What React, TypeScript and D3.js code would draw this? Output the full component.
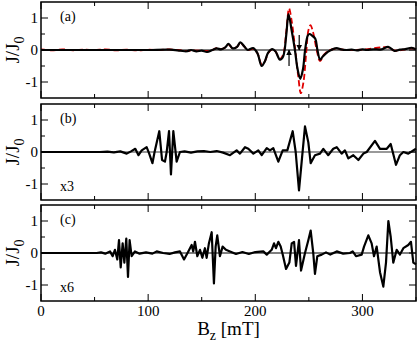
import React, { useEffect, useRef } from 'react';
import * as d3 from 'd3';

// panel (a): black solid and red dashed curves  [Bz (mT), J/J0]
const panelA: [number, number][] = [
  [0, 0], [20, 0], [40, 0], [60, 0], [80, 0], [100, 0], [120, 0.01], [130, -0.02], [136, -0.04],
  [140, 0], [145, -0.04], [150, -0.02], [155, -0.06], [160, 0], [164, 0.05], [168, 0.02], [172, 0.08],
  [175, 0.19], [179, 0.05], [183, 0.1], [186, 0.24], [190, 0.1], [193, 0.0], [198, 0.06], [202, -0.1],
  [206, -0.5], [209, -0.35], [212, -0.08], [216, 0.03], [219, -0.05], [223, -0.3], [226, -0.2],
  [229, 0.5], [231, 1.12], [234, 0.6], [237, 0.0], [239.5, -0.6], [242, -0.9], [244.5, -0.6],
  [246.5, 0], [249, 0.45], [250.5, 0.5], [253, 0.45], [256, 0.35], [258, 0.0], [260.5, -0.3],
  [263, -0.2], [268, -0.05], [272, 0.02], [276, 0.06], [280, 0.02], [285, 0], [290, 0.01],
  [295, -0.01], [300, 0.02], [304, 0], [310, 0.02], [318, 0.02], [324, 0.1], [330, -0.03],
  [335, 0.01], [340, 0.03], [346, 0.07], [350, 0.02]
];

const panelARed: [number, number][] = [
  [0, 0.02], [10, -0.01], [20, 0.02], [30, -0.01], [40, 0.01], [50, 0], [60, 0.02], [70, -0.01],
  [80, 0.01], [90, -0.01], [100, 0.01], [110, 0], [120, 0.02], [130, -0.01], [136, -0.03],
  [145, -0.02], [155, -0.03], [160, 0], [164, 0.06], [168, 0.03], [172, 0.08], [175, 0.17],
  [179, 0.05], [183, 0.1], [186, 0.22], [190, 0.1], [193, 0.0], [198, 0.03], [202, -0.1],
  [206, -0.45], [209, -0.35], [212, -0.1], [216, 0.02], [219, -0.05], [223, -0.28], [226, -0.15],
  [229, 0.6], [231.5, 1.3], [234, 0.9], [237, 0.1], [240, -0.8], [242.5, -1.35], [245, -1.0],
  [247.5, -0.1], [249.5, 0.6], [251.5, 0.78], [254, 0.55], [257, 0.05], [260.5, -0.35],
  [264, -0.15], [268, -0.03], [275, 0.04], [285, 0], [300, 0.01], [324, 0.08], [330, -0.02],
  [346, 0.05], [350, 0.03]
];

// arrows in panel (a): x, from, to
const arrowsA = [
  { x: 231.5, from: -0.5, to: 0.0 },
  { x: 241, from: 0.47, to: 0.0 }
];

// panel (b), scaled x3
const panelB: [number, number][] = [
  [0, 0], [30, 0], [55, 0], [62, 0.01], [68, -0.01], [74, 0.02], [80, -0.05], [84, 0.02],
  [88, 0.1], [91, -0.1], [94, 0.05], [98.6, 0.15], [101, -0.05], [104, -0.35], [106, 0],
  [110.4, 0.65], [113, -0.25], [115.7, -0.3], [117.3, 0], [119.5, 0.65], [121.3, -0.7],
  [123.5, 0.65], [126.6, -0.3], [129.7, 0.0], [134, 0.02], [140, -0.02], [146, 0.02],
  [152, 0.03], [158, 0.0], [164, 0.03], [170, -0.02], [176.4, -0.1], [182.6, 0.05],
  [185.7, -0.05], [190.4, 0.15], [193.5, 0.1], [198.2, -0.05], [202.8, 0.05], [206, -0.1],
  [210.7, 0.12], [213.7, 0.05], [216.8, 0.12], [221.5, -0.3], [225.6, 0.05], [229.9, 0.05],
  [234.9, 0.65], [237.7, 0.0], [240.8, -1.2], [243.3, -0.3], [246.4, 0.8], [249.5, 0.3],
  [251.7, -0.35], [255.7, -0.1], [260.4, -0.05], [263.5, 0.1], [268, -0.1], [272.8, 0.1],
  [276, 0.15], [280.6, -0.05], [283.7, 0.05], [286.8, -0.2], [291.5, -0.1], [296.2, -0.25],
  [300.9, -0.05], [304, 0], [311.7, 0.35], [316.4, 0.1], [322.7, 0.1], [326.4, 0.25],
  [328.3, 0.0], [331.3, -0.4], [335, -0.1], [338.2, 0.0], [342.8, -0.05], [350, 0.1]
];

// panel (c), scaled x6
const panelC: [number, number][] = [
  [0, 0], [30, 0], [52, 0], [56, 0.02], [60, -0.02], [64.4, 0.05], [66.9, -0.1], [69, 0.1],
  [71.2, -0.2], [72.8, 0.4], [74.4, -0.45], [76.2, 0.3], [77.8, -0.3], [79.6, 0.45],
  [81.2, -0.75], [82.7, 0.4], [84.6, -0.1], [87.7, 0.05], [92, -0.02], [98, 0.02],
  [104, -0.02], [108, 0.05], [114, 0.0], [120, -0.03], [125, 0.02], [129.7, 0.05],
  [133.5, -0.2], [137.5, 0.05], [140.6, 0.25], [142.1, 0.05], [143.7, 0.35], [145.9, -0.1],
  [148.4, 0.1], [150.6, -0.15], [153, 0.15], [154.6, -0.15], [156.7, 0.3], [159.3, 0.65],
  [161.4, -0.95], [163, 0.2], [164.5, 0.55], [167, -0.1], [169.5, 0.2], [172.6, 0.1],
  [176.4, 0.05], [182, -0.03], [188, 0.03], [194, -0.03], [200, 0.03], [207.5, 0.05],
  [210.7, -0.05], [215.3, 0.1], [217.5, 0.3], [219.3, 0.15], [221.5, 0.35], [223.7, 0.2],
  [225.6, -0.05], [228.7, -0.5], [231.8, -0.3], [234, 0.3], [236.2, 0.35], [238, -0.4],
  [240.8, 0.4], [242.7, -0.55], [246.4, 0.0], [249.5, 0.4], [251.7, 0.7], [254.1, 0.0],
  [255.7, -0.65], [257.9, -0.1], [262, -0.05], [266, 0.02], [270, -0.05], [276, 0.05],
  [282, -0.02], [288.4, 0.0], [290.9, 0.05], [294, -0.1], [299.3, -0.05], [301.5, 0.2],
  [305.5, 0.55], [308.6, 0.3], [310.8, -0.1], [313.3, 0.2], [316.4, -0.6], [319.5, -1.05],
  [322, -0.3], [324.2, 1.0], [326.4, 0.5], [328.8, -0.3], [332, 0.1], [335, -0.05],
  [338.2, 0.15], [342.8, 0.25], [345.3, 0.35], [347.5, -0.3], [350, -0.35]
];

const panelLabels = ['(a)', '(b)', '(c)'];
const scaleLabels = ['', 'x3', 'x6'];
const xTicks = [0, 100, 200, 300];
const xMinor = [50, 150, 250, 350];
const yTicks = [-1, 0, 1];
const yMinor = [-0.5, 0.5];

const App = () => {
  const ref = useRef<SVGSVGElement>(null);

  useEffect(() => {
    const svg = d3.select(ref.current);
    svg.selectAll('*').remove();

    const left = 41, right = 416;
    const tops = [2, 104, 205];
    const h = 96;
    const font = 'Liberation Serif, Times New Roman, serif';

    const x = d3.scaleLinear().domain([0, 350]).range([left, right]);

    const defs = svg.append('defs');
    defs.append('marker')
      .attr('id', 'ah')
      .attr('viewBox', '0 0 10 10')
      .attr('refX', 9).attr('refY', 5)
      .attr('markerWidth', 6).attr('markerHeight', 7)
      .attr('markerUnits', 'userSpaceOnUse')
      .attr('orient', 'auto')
      .append('path').attr('d', 'M0,0L10,5L0,10Z').attr('fill', '#000');

    const series = [panelA, panelB, panelC];

    tops.forEach((top, i) => {
      const y = d3.scaleLinear().domain([-1.5, 1.5]).range([top + h, top]);
      const g = svg.append('g');

      // zero line
      g.append('line')
        .attr('x1', left).attr('x2', right)
        .attr('y1', y(0)).attr('y2', y(0))
        .attr('stroke', i === 1 ? '#999' : '#000')
        .attr('stroke-width', i === 1 ? 2 : 1);

      const line = d3.line<[number, number]>()
        .x(d => x(d[0]))
        .y(d => y(d[1]));

      if (i === 0) {
        line.curve(d3.curveCatmullRom.alpha(0.5));
        g.append('path')
          .datum(panelARed)
          .attr('fill', 'none')
          .attr('stroke', '#e00000')
          .attr('stroke-width', 1.8)
          .attr('stroke-dasharray', '6,3')
          .attr('d', line);
      }

      g.append('path')
        .datum(series[i])
        .attr('fill', 'none')
        .attr('stroke', '#000')
        .attr('stroke-width', 2.2)
        .attr('stroke-linejoin', 'round')
        .attr('d', line);

      if (i === 0) {
        arrowsA.forEach(a => {
          g.append('line')
            .attr('x1', x(a.x)).attr('x2', x(a.x))
            .attr('y1', y(a.from)).attr('y2', y(a.to))
            .attr('stroke', '#000').attr('stroke-width', 1.2)
            .attr('marker-end', 'url(#ah)');
        });
      }

      // frame
      g.append('rect')
        .attr('x', left).attr('y', top)
        .attr('width', right - left).attr('height', h)
        .attr('fill', 'none').attr('stroke', '#000').attr('stroke-width', 1.5);

      // x ticks (top and bottom, inward)
      const tick = (v: number, len: number) => {
        g.append('line').attr('x1', x(v)).attr('x2', x(v))
          .attr('y1', top + h).attr('y2', top + h - len).attr('stroke', '#000');
        g.append('line').attr('x1', x(v)).attr('x2', x(v))
          .attr('y1', top).attr('y2', top + len).attr('stroke', '#000');
      };
      xTicks.forEach(v => tick(v, 7));
      xMinor.forEach(v => tick(v, 4));

      const ytick = (v: number, len: number) => {
        g.append('line').attr('x1', left).attr('x2', left + len)
          .attr('y1', y(v)).attr('y2', y(v)).attr('stroke', '#000');
        g.append('line').attr('x1', right).attr('x2', right - len)
          .attr('y1', y(v)).attr('y2', y(v)).attr('stroke', '#000');
      };
      yTicks.forEach(v => ytick(v, 7));
      yMinor.forEach(v => ytick(v, 4));

      yTicks.forEach(v => {
        g.append('text')
          .attr('x', 38).attr('y', y(v) + 5)
          .attr('text-anchor', 'end')
          .attr('font-family', font).attr('font-size', 15)
          .text(v === -1 ? '-1' : String(v));
      });

      // y label
      const yl = g.append('text')
        .attr('transform', `translate(19,${top + h / 2}) rotate(-90)`)
        .attr('text-anchor', 'middle')
        .attr('font-family', font).attr('font-size', 19);
      yl.append('tspan').text('J/J');
      yl.append('tspan').attr('dy', 5).attr('font-size', 14).text('0');

      g.append('text')
        .attr('x', 60).attr('y', top + 19)
        .attr('font-family', font).attr('font-size', 14)
        .text(panelLabels[i]);

      if (scaleLabels[i]) {
        g.append('text')
          .attr('x', 60).attr('y', top + h - 9)
          .attr('font-family', font).attr('font-size', 14)
          .text(scaleLabels[i]);
      }

      if (i === 2) {
        xTicks.forEach(v => {
          g.append('text')
            .attr('x', x(v)).attr('y', top + h + 15)
            .attr('text-anchor', 'middle')
            .attr('font-family', font).attr('font-size', 15)
            .text(String(v));
        });
        const xl = g.append('text')
          .attr('x', (left + right) / 2).attr('y', 335)
          .attr('text-anchor', 'middle')
          .attr('font-family', font).attr('font-size', 19);
        xl.append('tspan').text('B');
        xl.append('tspan').attr('dy', 5).attr('font-size', 14).text('z');
        xl.append('tspan').attr('dy', -5).text(' [mT]');
      }
    });
  }, []);

  return (
    <svg ref={ref} width={418} height={343}
      style={{ position: 'absolute', left: 0, top: 0, background: '#fff' }} />
  );
};

export default App;
